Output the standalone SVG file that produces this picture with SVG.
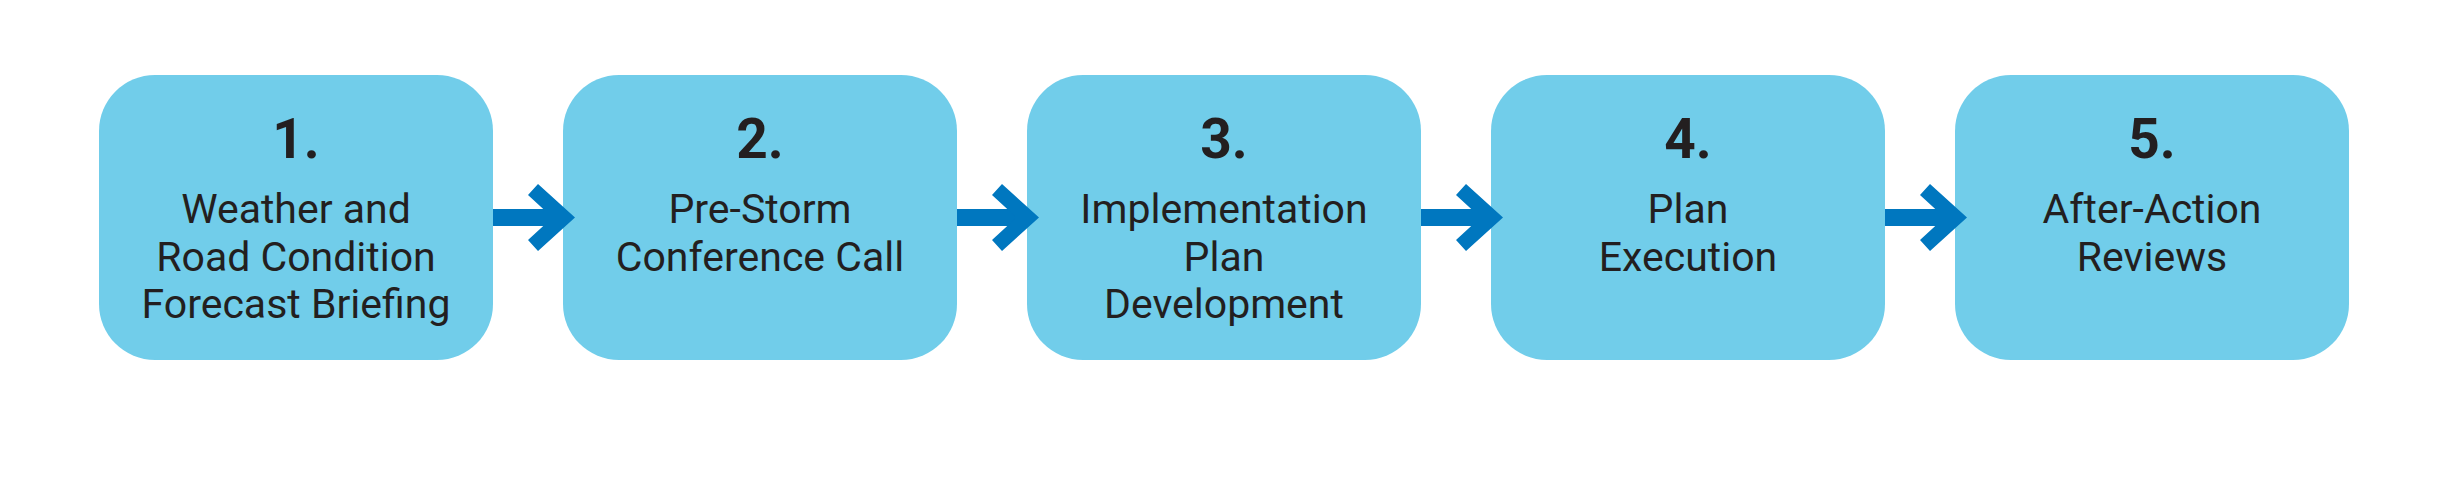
<svg xmlns="http://www.w3.org/2000/svg" width="2452" height="482" viewBox="0 0 2452 482">
<style>
.box{fill:#71cdea}
.num{font-family:Roboto,"Liberation Sans",sans-serif;font-weight:700;font-size:55px;fill:#231f20;text-anchor:middle}
.lbl{font-family:Roboto,"Liberation Sans",sans-serif;font-size:41px;fill:#231f20;text-anchor:middle}
.arr{fill:#0077bf}
</style>
<rect width="2452" height="482" fill="#ffffff"/>
<defs>
<g id="arrowShape">
<rect x="0" y="209" width="62" height="17"/>
<polygon points="45,184 82,217.5 45,251 35,240 59.5,217.5 35,195"/>
</g>
</defs>
<g id="node1">
<rect class="box" x="99" y="75" width="394" height="285" rx="56" ry="56"/>
<text class="num" x="296" y="158">1.</text>
<text class="lbl" x="296" y="223">Weather and</text>
<text class="lbl" x="296" y="271">Road Condition</text>
<text class="lbl" x="296" y="318">Forecast Briefing</text>
</g>
<g id="node2">
<rect class="box" x="563" y="75" width="394" height="285" rx="56" ry="56"/>
<text class="num" x="760" y="158">2.</text>
<text class="lbl" x="760" y="223">Pre-Storm</text>
<text class="lbl" x="760" y="271">Conference Call</text>
</g>
<g id="node3">
<rect class="box" x="1027" y="75" width="394" height="285" rx="56" ry="56"/>
<text class="num" x="1224" y="158">3.</text>
<text class="lbl" x="1224" y="223">Implementation</text>
<text class="lbl" x="1224" y="271">Plan</text>
<text class="lbl" x="1224" y="318">Development</text>
</g>
<g id="node4">
<rect class="box" x="1491" y="75" width="394" height="285" rx="56" ry="56"/>
<text class="num" x="1688" y="158">4.</text>
<text class="lbl" x="1688" y="223">Plan</text>
<text class="lbl" x="1688" y="271">Execution</text>
</g>
<g id="node5">
<rect class="box" x="1955" y="75" width="394" height="285" rx="56" ry="56"/>
<text class="num" x="2152" y="158">5.</text>
<text class="lbl" x="2152" y="223">After-Action</text>
<text class="lbl" x="2152" y="271">Reviews</text>
</g>
<g id="connectors" class="arr">
<use href="#arrowShape" x="493"/>
<use href="#arrowShape" x="957"/>
<use href="#arrowShape" x="1421"/>
<use href="#arrowShape" x="1885"/>
</g>
</svg>
